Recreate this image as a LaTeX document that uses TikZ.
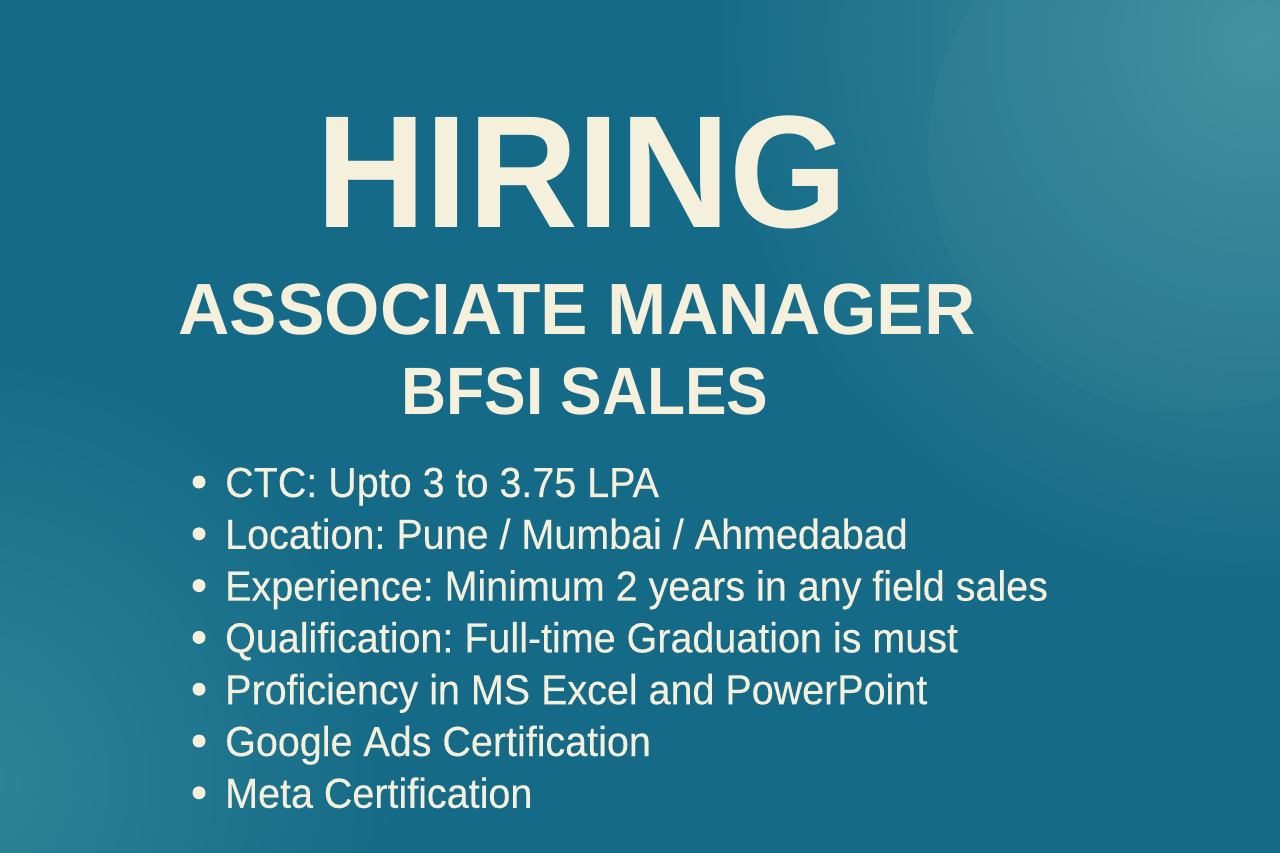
\documentclass[tikz,border=0pt]{standalone}
\usepackage{fontspec}
\setmainfont{Liberation Sans}
\newfontfamily\hiringfont[FakeStretch=0.95]{Liberation Sans}
\newfontfamily\rolefont[FakeStretch=0.98]{Liberation Sans}
\newfontfamily\teamfont[FakeStretch=0.93]{Liberation Sans}
\newfontfamily\bodyfont[FakeStretch=0.94, FakeBold=0.3]{Liberation Sans}
\usetikzlibrary{positioning}

\definecolor{bgbase}{HTML}{156A87}
\definecolor{bgglow}{HTML}{3F909E}
\definecolor{bgglowlow}{HTML}{2E8598}
\definecolor{cream}{HTML}{F5F0DC}

\tikzset{
	headline/.style={anchor=base, inner sep=0pt, text=cream},
	itemline/.style={anchor=base west, inner sep=0pt, text=cream, font=\bodyfont\fontsize{42}{48}\selectfont\frenchspacing},
	itemdot/.style={circle, fill=cream, inner sep=0pt, minimum size=13pt}
}

\begin{document}
\begin{tikzpicture}[x=1pt, y=-1pt]
	\def\w{1280};
	\def\h{853};
	\def\gap{51.8};

	\useasboundingbox (0,0) rectangle (\w,\h);
	\clip (0,0) rectangle (\w,\h);

	% background
	\begin{scope}
		\fill [bgbase] (0,0) rectangle (\w,\h);
		\shade [inner color=bgglow, outer color=bgbase] (1260,40) circle (560);
		\shade [inner color=bgglowlow, outer color=bgbase] (-40,780) circle (440);
		\fill [white, opacity=0.025] (1190,150) circle (262);
	\end{scope}

	% titles
	\node [headline, font=\hiringfont\bfseries\fontsize{160}{160}\selectfont] (hiring) at (582,228) {HIRING};
	\node [headline, font=\rolefont\bfseries\fontsize{72.6}{76}\selectfont] (role) at (577,334) {ASSOCIATE MANAGER};
	\node [headline, font=\teamfont\bfseries\fontsize{67}{70}\selectfont] (team) at (585,414) {BFSI SALES};

	% list
	\foreach \txt [count=\i] in {CTC: Upto 3 to 3.75 LPA,
			Location: Pune / Mumbai / Ahmedabad,
			Experience: Minimum 2 years in any field sales,
			Qualification: Full-time Graduation is must,
			Proficiency in MS Excel and PowerPoint,
			Google Ads Certification,
			Meta Certification} {
		\node [itemline] (item\i) at (225,{497 + (\i-1)*\gap}) {\txt};
		\node [itemdot] (dot\i) at (199,{482 + (\i-1)*\gap}) {};
	}
\end{tikzpicture}
\end{document}
